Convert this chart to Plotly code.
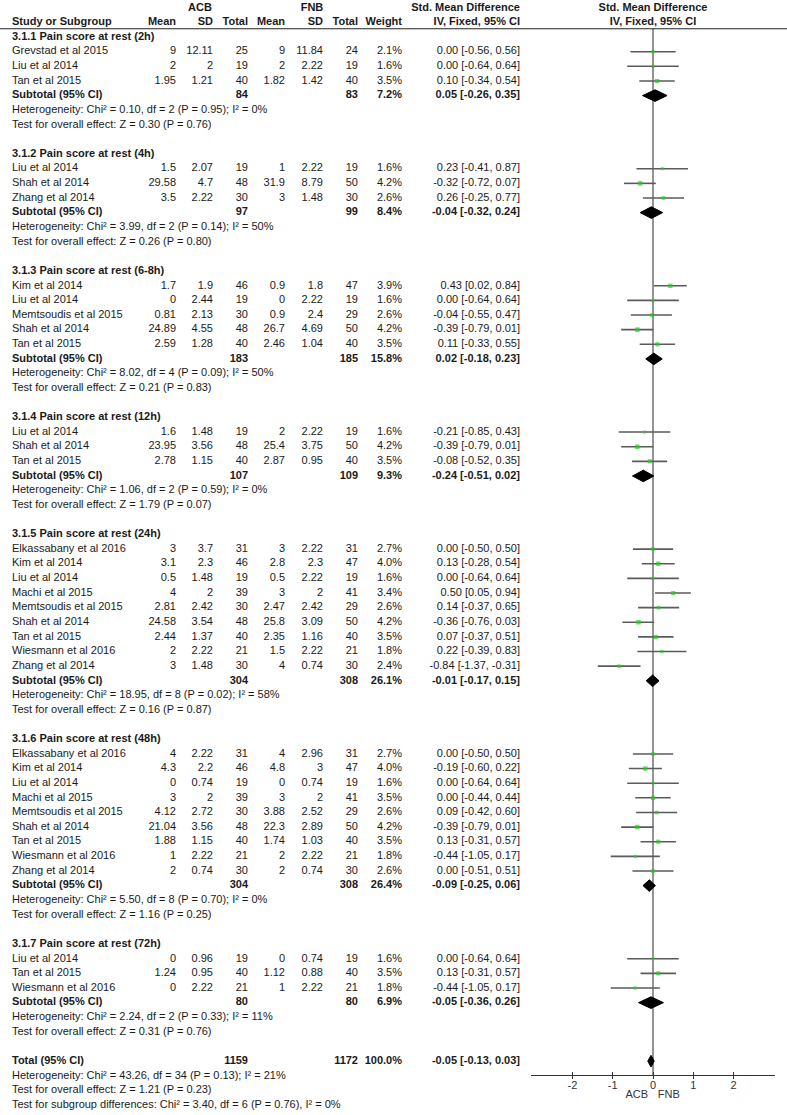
import plotly.graph_objects as go

# ---------------- data ----------------
section_titles = [
    "3.1.1 Pain score at rest (2h)",
    "3.1.2 Pain score at rest (4h)",
    "3.1.3 Pain score at rest (6-8h)",
    "3.1.4 Pain score at rest (12h)",
    "3.1.5 Pain score at rest (24h)",
    "3.1.6 Pain score at rest (48h)",
    "3.1.7 Pain score at rest (72h)",
]

study_section = [0, 0, 0,
                 1, 1, 1,
                 2, 2, 2, 2, 2,
                 3, 3, 3,
                 4, 4, 4, 4, 4, 4, 4, 4, 4,
                 5, 5, 5, 5, 5, 5, 5, 5, 5,
                 6, 6, 6]
study_names = [
    "Grevstad et al 2015", "Liu et al 2014", "Tan et al 2015",
    "Liu et al 2014", "Shah et al 2014", "Zhang et al 2014",
    "Kim et al 2014", "Liu et al 2014", "Memtsoudis et al 2015", "Shah et al 2014", "Tan et al 2015",
    "Liu et al 2014", "Shah et al 2014", "Tan et al 2015",
    "Elkassabany et al 2016", "Kim et al 2014", "Liu et al 2014", "Machi et al 2015",
    "Memtsoudis et al 2015", "Shah et al 2014", "Tan et al 2015", "Wiesmann et al 2016", "Zhang et al 2014",
    "Elkassabany et al 2016", "Kim et al 2014", "Liu et al 2014", "Machi et al 2015",
    "Memtsoudis et al 2015", "Shah et al 2014", "Tan et al 2015", "Wiesmann et al 2016", "Zhang et al 2014",
    "Liu et al 2014", "Tan et al 2015", "Wiesmann et al 2016",
]
acb_mean = [9, 2, 1.95,
            1.5, 29.58, 3.5,
            1.7, 0, 0.81, 24.89, 2.59,
            1.6, 23.95, 2.78,
            3, 3.1, 0.5, 4, 2.81, 24.58, 2.44, 2, 3,
            4, 4.3, 0, 3, 4.12, 21.04, 1.88, 1, 2,
            0, 1.24, 0]
acb_sd = [12.11, 2, 1.21,
          2.07, 4.7, 2.22,
          1.9, 2.44, 2.13, 4.55, 1.28,
          1.48, 3.56, 1.15,
          3.7, 2.3, 1.48, 2, 2.42, 3.54, 1.37, 2.22, 1.48,
          2.22, 2.2, 0.74, 2, 2.72, 3.56, 1.15, 2.22, 0.74,
          0.96, 0.95, 2.22]
acb_n = [25, 19, 40,
         19, 48, 30,
         46, 19, 30, 48, 40,
         19, 48, 40,
         31, 46, 19, 39, 30, 48, 40, 21, 30,
         31, 46, 19, 39, 30, 48, 40, 21, 30,
         19, 40, 21]
fnb_mean = [9, 2, 1.82,
            1, 31.9, 3,
            0.9, 0, 0.9, 26.7, 2.46,
            2, 25.4, 2.87,
            3, 2.8, 0.5, 3, 2.47, 25.8, 2.35, 1.5, 4,
            4, 4.8, 0, 3, 3.88, 22.3, 1.74, 2, 2,
            0, 1.12, 1]
fnb_sd = [11.84, 2.22, 1.42,
          2.22, 8.79, 1.48,
          1.8, 2.22, 2.4, 4.69, 1.04,
          2.22, 3.75, 0.95,
          2.22, 2.3, 2.22, 2, 2.42, 3.09, 1.16, 2.22, 0.74,
          2.96, 3, 0.74, 2, 2.52, 2.89, 1.03, 2.22, 0.74,
          0.74, 0.88, 2.22]
fnb_n = [24, 19, 40,
         19, 50, 30,
         47, 19, 29, 50, 40,
         19, 50, 40,
         31, 47, 19, 41, 29, 50, 40, 21, 30,
         31, 47, 19, 41, 29, 50, 40, 21, 30,
         19, 40, 21]
weight = [2.1, 1.6, 3.5,
          1.6, 4.2, 2.6,
          3.9, 1.6, 2.6, 4.2, 3.5,
          1.6, 4.2, 3.5,
          2.7, 4.0, 1.6, 3.4, 2.6, 4.2, 3.5, 1.8, 2.4,
          2.7, 4.0, 1.6, 3.5, 2.6, 4.2, 3.5, 1.8, 2.6,
          1.6, 3.5, 1.8]
smd = [0.00, 0.00, 0.10,
       0.23, -0.32, 0.26,
       0.43, 0.00, -0.04, -0.39, 0.11,
       -0.21, -0.39, -0.08,
       0.00, 0.13, 0.00, 0.50, 0.14, -0.36, 0.07, 0.22, -0.84,
       0.00, -0.19, 0.00, 0.00, 0.09, -0.39, 0.13, -0.44, 0.00,
       0.00, 0.13, -0.44]
ci_lo = [-0.56, -0.64, -0.34,
         -0.41, -0.72, -0.25,
         0.02, -0.64, -0.55, -0.79, -0.33,
         -0.85, -0.79, -0.52,
         -0.50, -0.28, -0.64, 0.05, -0.37, -0.76, -0.37, -0.39, -1.37,
         -0.50, -0.60, -0.64, -0.44, -0.42, -0.79, -0.31, -1.05, -0.51,
         -0.64, -0.31, -1.05]
ci_hi = [0.56, 0.64, 0.54,
         0.87, 0.07, 0.77,
         0.84, 0.64, 0.47, 0.01, 0.55,
         0.43, 0.01, 0.35,
         0.50, 0.54, 0.64, 0.94, 0.65, 0.03, 0.51, 0.83, -0.31,
         0.50, 0.22, 0.64, 0.44, 0.60, 0.01, 0.57, 0.17, 0.51,
         0.64, 0.57, 0.17]

# subtotals per section
sub_acb_n = [84, 97, 183, 107, 304, 304, 80]
sub_fnb_n = [83, 99, 185, 109, 308, 308, 80]
sub_weight = [7.2, 8.4, 15.8, 9.3, 26.1, 26.4, 6.9]
sub_smd = [0.05, -0.04, 0.02, -0.24, -0.01, -0.09, -0.05]
sub_lo = [-0.26, -0.32, -0.18, -0.51, -0.17, -0.25, -0.36]
sub_hi = [0.35, 0.24, 0.23, 0.02, 0.15, 0.06, 0.26]
het_chi2 = ["0.10", "3.99", "8.02", "1.06", "18.95", "5.50", "2.24"]
het_df = [2, 2, 4, 2, 8, 8, 2]
het_p = ["0.95", "0.14", "0.09", "0.59", "0.02", "0.70", "0.33"]
het_i2 = [0, 50, 50, 0, 58, 0, 11]
eff_z = ["0.30", "0.26", "0.21", "1.79", "0.16", "1.16", "0.31"]
eff_p = ["0.76", "0.80", "0.83", "0.07", "0.87", "0.25", "0.76"]

# overall
total_acb_n = 1159
total_fnb_n = 1172
total_weight = 100.0
total_smd = -0.05
total_lo = -0.13
total_hi = 0.03
total_het = ("43.26", 34, "0.13", 21)
total_eff = ("1.21", "0.23")
subgroup_diff = ("3.40", 6, "0.76", 0)

axis_ticks = [-2, -1, 0, 1, 2]
axis_ticktext = ["-2", "-1", "0", "1", "2"]
favours_left = "ACB"
favours_right = "FNB"

# ---------------- layout constants ----------------
W, H = 787, 1115
Y0, DY = 7.8, 14.63
FONT = "Arial, Liberation Sans, sans-serif"
TXT = "#1a1a1a"
FS = 11
X_NAME = 12
COLS = dict(acb_mean=176, acb_sd=213, acb_n=248, fnb_mean=285, fnb_sd=323,
            fnb_n=358, weight=402, ci=520)
PLOT_L, PLOT_R = 531, 775
XR = (-3.03, 3.03)


def ypx(r):
    return Y0 + DY * r


def fnum(v):
    return f"{v:g}"


def fci(m, lo, hi):
    return f"{m:.2f} [{lo:.2f}, {hi:.2f}]"


# ---------------- build rows ----------------
left_items = []     # (x, y, text) left aligned
right_items = []    # (x, y, text) right aligned
study_rows = []     # (row, index)
sub_rows = []       # (row, section)

r = 2
for s, title in enumerate(section_titles):
    left_items.append((X_NAME, ypx(r), f"<b>{title}</b>"))
    r += 1
    for i, sec in enumerate(study_section):
        if sec != s:
            continue
        y = ypx(r)
        left_items.append((X_NAME, y, study_names[i]))
        right_items += [
            (COLS["acb_mean"], y, fnum(acb_mean[i])),
            (COLS["acb_sd"], y, fnum(acb_sd[i])),
            (COLS["acb_n"], y, str(acb_n[i])),
            (COLS["fnb_mean"], y, fnum(fnb_mean[i])),
            (COLS["fnb_sd"], y, fnum(fnb_sd[i])),
            (COLS["fnb_n"], y, str(fnb_n[i])),
            (COLS["weight"], y, f"{weight[i]:.1f}%"),
            (COLS["ci"], y, fci(smd[i], ci_lo[i], ci_hi[i])),
        ]
        study_rows.append((r, i))
        r += 1
    y = ypx(r)
    left_items.append((X_NAME, y, "<b>Subtotal (95% CI)</b>"))
    right_items += [
        (COLS["acb_n"], y, f"<b>{sub_acb_n[s]}</b>"),
        (COLS["fnb_n"], y, f"<b>{sub_fnb_n[s]}</b>"),
        (COLS["weight"], y, f"<b>{sub_weight[s]:.1f}%</b>"),
        (COLS["ci"], y, f"<b>{fci(sub_smd[s], sub_lo[s], sub_hi[s])}</b>"),
    ]
    sub_rows.append((r, s))
    r += 1
    left_items.append((X_NAME, ypx(r),
                       f"Heterogeneity: Chi² = {het_chi2[s]}, df = {het_df[s]} (P = {het_p[s]}); I² = {het_i2[s]}%"))
    r += 1
    left_items.append((X_NAME, ypx(r), f"Test for overall effect: Z = {eff_z[s]} (P = {eff_p[s]})"))
    r += 2

total_row = r
y = ypx(r)
left_items.append((X_NAME, y, "<b>Total (95% CI)</b>"))
right_items += [
    (COLS["acb_n"], y, f"<b>{total_acb_n}</b>"),
    (COLS["fnb_n"], y, f"<b>{total_fnb_n}</b>"),
    (COLS["weight"], y, f"<b>{total_weight:.1f}%</b>"),
    (COLS["ci"], y, f"<b>{fci(total_smd, total_lo, total_hi)}</b>"),
]
left_items.append((X_NAME, ypx(r + 1),
                   f"Heterogeneity: Chi² = {total_het[0]}, df = {total_het[1]} (P = {total_het[2]}); I² = {total_het[3]}%"))
left_items.append((X_NAME, ypx(r + 2), f"Test for overall effect: Z = {total_eff[0]} (P = {total_eff[1]})"))
left_items.append((X_NAME, ypx(r + 3),
                   f"Test for subgroup differences: Chi² = {subgroup_diff[0]}, df = {subgroup_diff[1]} (P = {subgroup_diff[2]}), I² = {subgroup_diff[3]}%"))

# header rows
h0, h1 = ypx(0), ypx(1)
left_items.append((X_NAME, h1, "<b>Study or Subgroup</b>"))
right_items += [
    (COLS["acb_mean"], h1, "<b>Mean</b>"), (COLS["acb_sd"], h1, "<b>SD</b>"),
    (COLS["acb_n"], h1, "<b>Total</b>"), (COLS["fnb_mean"], h1, "<b>Mean</b>"),
    (COLS["fnb_sd"], h1, "<b>SD</b>"), (COLS["fnb_n"], h1, "<b>Total</b>"),
    (COLS["weight"], h1, "<b>Weight</b>"),
    (COLS["ci"], h1, "<b>IV, Fixed, 95% CI</b>"),
    (COLS["ci"], h0, "<b>Std. Mean Difference</b>"),
]
center_items = [
    (200, h0, "<b>ACB</b>"),
    (312, h0, "<b>FNB</b>"),
]

fig = go.Figure()


def text_trace(items, pos):
    return go.Scatter(
        x=[it[0] for it in items], y=[it[1] for it in items],
        text=[it[2] for it in items], mode="text", textposition=pos,
        textfont=dict(family=FONT, size=FS, color=TXT),
        xaxis="x2", yaxis="y", hoverinfo="skip", cliponaxis=False,
    )


fig.add_trace(text_trace(left_items, "middle right"))
fig.add_trace(text_trace(right_items, "middle left"))
fig.add_trace(text_trace(center_items, "middle center"))

# forest header
fig.add_trace(go.Scatter(
    x=[0, 0], y=[h0, h1],
    text=["<b>Std. Mean Difference</b>", "<b>IV, Fixed, 95% CI</b>"],
    mode="text", textposition="middle center",
    textfont=dict(family=FONT, size=FS, color=TXT),
    xaxis="x", yaxis="y", hoverinfo="skip", cliponaxis=False))

# CI lines
lx, ly = [], []
for row, i in study_rows:
    lx += [ci_lo[i], ci_hi[i], None]
    ly += [ypx(row), ypx(row), None]
fig.add_trace(go.Scatter(x=lx, y=ly, mode="lines",
                         line=dict(color="#5a5a5a", width=1.6),
                         xaxis="x", yaxis="y", hoverinfo="skip"))

# squares
fig.add_trace(go.Scatter(
    x=[smd[i] for _, i in study_rows], y=[ypx(row) for row, _ in study_rows],
    mode="markers",
    marker=dict(symbol="square", color="#19d219",
                size=[2.0 + 0.6 * weight[i] for _, i in study_rows], line=dict(width=0)),
    xaxis="x", yaxis="y", hoverinfo="skip"))

# diamonds
HALF = 5.8
dx, dy = [], []
for row, s in sub_rows:
    yc = ypx(row)
    dx += [sub_lo[s], sub_smd[s], sub_hi[s], sub_smd[s], sub_lo[s], None]
    dy += [yc, yc - HALF, yc, yc + HALF, yc, None]
yc = ypx(total_row)
dx += [total_lo, total_smd, total_hi, total_smd, total_lo]
dy += [yc, yc - HALF, yc, yc + HALF, yc]
fig.add_trace(go.Scatter(x=dx, y=dy, mode="lines", fill="toself",
                         fillcolor="black", line=dict(color="black", width=1),
                         xaxis="x", yaxis="y", hoverinfo="skip"))

AXIS_Y = ypx(total_row) + 14
# favours labels
fig.add_trace(go.Scatter(
    x=[-0.12, 0.12], y=[AXIS_Y + 20, AXIS_Y + 20],
    text=[favours_left, favours_right], mode="text",
    textposition=["middle left", "middle right"],
    textfont=dict(family=FONT, size=FS, color="#333"),
    xaxis="x", yaxis="y", hoverinfo="skip", cliponaxis=False))

# invisible trace so the overlay axis (lower tick half) is drawn
fig.add_trace(go.Scatter(x=[0], y=[AXIS_Y], mode="markers", marker=dict(opacity=0),
                         xaxis="x3", yaxis="y", hoverinfo="skip"))

HEAD_LINE = ypx(1) + 6.3
fig.add_shape(type="line", xref="paper", yref="y", x0=0, x1=1,
              y0=HEAD_LINE, y1=HEAD_LINE, line=dict(color="#222", width=1.2))
fig.add_shape(type="line", xref="x", yref="y", x0=0, x1=0,
              y0=HEAD_LINE, y1=AXIS_Y, line=dict(color="#888", width=1.8),
              layer="below")

dom = [PLOT_L / W, PLOT_R / W]
axpos = 1 - AXIS_Y / H
fig.update_layout(
    width=W, height=H, margin=dict(l=0, r=0, t=0, b=0),
    paper_bgcolor="white", plot_bgcolor="rgba(0,0,0,0)", showlegend=False,
    xaxis=dict(domain=dom, range=list(XR), anchor="free", position=axpos,
               showline=True, linecolor="#333", linewidth=1.2,
               tickvals=axis_ticks, ticktext=axis_ticktext,
               ticks="inside", ticklen=3, tickwidth=1.2, tickcolor="#333",
               tickfont=dict(family=FONT, size=FS, color="#333"),
               showgrid=False, zeroline=False, fixedrange=True),
    xaxis3=dict(domain=dom, range=list(XR), anchor="free", position=axpos,
                overlaying="x", showline=False,
                tickvals=axis_ticks, ticks="outside", ticklen=3, tickwidth=1.2,
                tickcolor="#333", showticklabels=False, showgrid=False, zeroline=False),
    xaxis2=dict(domain=[0, 1], range=[0, W], visible=False, anchor="y", fixedrange=True),
    yaxis=dict(domain=[0, 1], range=[H, 0], visible=False, fixedrange=True),
)

fig.write_html("out.html",
               config={"displayModeBar": False},
               post_script="document.body.style.margin='0';document.body.style.overflow='hidden';")
